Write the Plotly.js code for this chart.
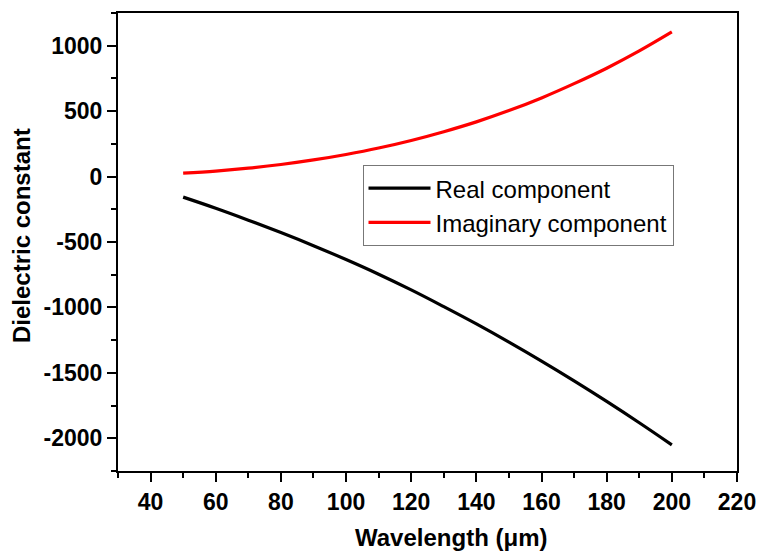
<!DOCTYPE html>
<html><head><meta charset="utf-8">
<script src="https://cdn.plot.ly/plotly-3.0.1.min.js"></script>
<style>html,body{margin:0;padding:0;background:#fff;}#chart{width:761px;height:553px;}</style>
</head><body><div id="chart"></div>
<script>
var wavelength = [50,60,70,80,90,100,110,120,130,140,150,160,170,180,190,200];
var realComponent = [-157,-242,-333,-428,-528,-634,-746,-866,-994,-1126,-1265,-1410,-1561,-1718,-1881,-2050];
var imagComponent = [26,42,64,92,127,169,218,276,343,418,504,601,710,828,960,1105];
var seriesNames = ["Real component","Imaginary component"];
var xTickVals = [40,60,80,100,120,140,160,180,200,220];
var yTickVals = [-2000,-1500,-1000,-500,0,500,1000];
var yTickText = ["-2000","-1500","-1000","-500","0","500","1000"];
var xTitle = "Wavelength (\u03bcm)";
var yTitle = "Dielectric constant";

var font = "Liberation Sans, Arial, sans-serif";
var traces = [
 {x: wavelength, y: realComponent, name: seriesNames[0], mode: "lines", line: {color: "#000000", width: 3.2, shape: "spline"}},
 {x: wavelength, y: imagComponent, name: seriesNames[1], mode: "lines", line: {color: "#ff0000", width: 3.2, shape: "spline"}}
];
var axisCommon = {
 showline: true, linecolor: "#000", linewidth: 2, mirror: true,
 ticks: "outside", ticklen: 9, tickwidth: 2, tickcolor: "#000",
 showgrid: false, zeroline: false,
 tickfont: {family: font, size: 23, color: "#000", weight: "bold"}
};
var titleFont = {family: font, size: 24, color: "#000", weight: "bold"};
var layout = {
 width: 761, height: 553,
 margin: {l: 118, r: 24, t: 13, b: 82},
 paper_bgcolor: "#fff", plot_bgcolor: "#fff",
 showlegend: true,
 legend: {x: 0.395, y: 0.668, xanchor: "left", yanchor: "top", bgcolor: "#fff", bordercolor: "#777", borderwidth: 1,
   font: {family: font, size: 24, color: "#000"}, tracegroupgap: 0, itemwidth: 62},
 xaxis: Object.assign({}, axisCommon, {range: [30, 220], tickmode: "array", tickvals: xTickVals,
   minor: {dtick: 10, tick0: 0, ticks: "outside", ticklen: 5, tickwidth: 2, tickcolor: "#000"}}),
 yaxis: Object.assign({}, axisCommon, {range: [-2250, 1250], tickmode: "array", tickvals: yTickVals, ticktext: yTickText,
   minor: {dtick: 250, tick0: 0, ticks: "outside", ticklen: 5, tickwidth: 2, tickcolor: "#000"}}),
 annotations: [
   {text: xTitle, xref: "paper", yref: "paper", x: 0.538, y: -0.146, xanchor: "center", yanchor: "middle", showarrow: false, font: titleFont},
   {text: yTitle, xref: "paper", yref: "paper", x: -0.156, y: 0.514, xanchor: "center", yanchor: "middle", showarrow: false, textangle: -90, font: titleFont}
 ]
};
Plotly.newPlot("chart", traces, layout, {staticPlot: true});
</script></body></html>
